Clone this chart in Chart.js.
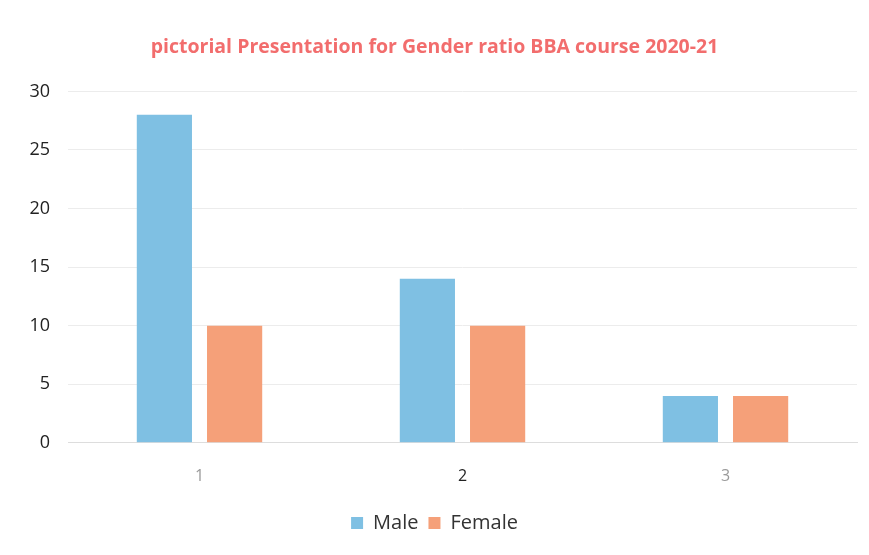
<!DOCTYPE html>
<html>
<head>
<meta charset="utf-8">
<script src="https://cdn.jsdelivr.net/npm/chart.js"></script>
<style>
  html, body { margin: 0; padding: 0; background: #fff; }
  #wrap { width: 869px; height: 555px; position: relative; }
</style>
</head>
<body>
<div id="wrap"><canvas id="genderChart"></canvas></div>
<script>
// data
const categories = ["1", "2", "3"];
const maleValues = [28, 14, 4];
const femaleValues = [10, 10, 4];
const seriesNames = ["Male", "Female"];
const chartTitle = "pictorial Presentation for Gender ratio BBA course 2020-21";

const FONT = "'Open Sans', Lato, sans-serif";

new Chart(document.getElementById("genderChart"), {
  type: "bar",
  data: {
    labels: categories,
    datasets: [
      { label: seriesNames[0], data: maleValues, backgroundColor: "#7fc0e3" },
      { label: seriesNames[1], data: femaleValues, backgroundColor: "#f5a079" }
    ]
  },
  options: {
    responsive: true,
    maintainAspectRatio: false,
    animation: false,
    categoryPercentage: 0.534,
    barPercentage: 0.786,
    layout: { padding: { left: 12, right: 12, bottom: 12 } },
    plugins: {
      title: {
        display: true,
        text: chartTitle,
        color: "#f26d6d",
        font: { family: FONT, size: 19.5, weight: "bold" },
        padding: { top: 36, bottom: 32 }
      },
      legend: {
        position: "bottom",
        labels: {
          color: "#333",
          font: { family: FONT, size: 20 },
          boxWidth: 12,
          boxHeight: 12,
          padding: 10
        }
      },
      tooltip: { enabled: false }
    },
    scales: {
      x: {
        afterFit: s => { s.height += 1; },
        grid: { display: false },
        border: { color: "#dddddd" },
        ticks: {
          color: ["#9a9a9a", "#222222", "#9a9a9a"],
          font: { family: FONT, size: 16 },
          padding: 16
        }
      },
      y: {
        min: 0,
        max: 30,
        afterFit: s => { s.width = 56; },
        grid: { color: "#ececec", drawTicks: false },
        border: { display: false },
        ticks: {
          stepSize: 5,
          color: "#222",
          font: { family: FONT, size: 18 },
          padding: 18
        }
      }
    }
  }
});
</script>
</body>
</html>
